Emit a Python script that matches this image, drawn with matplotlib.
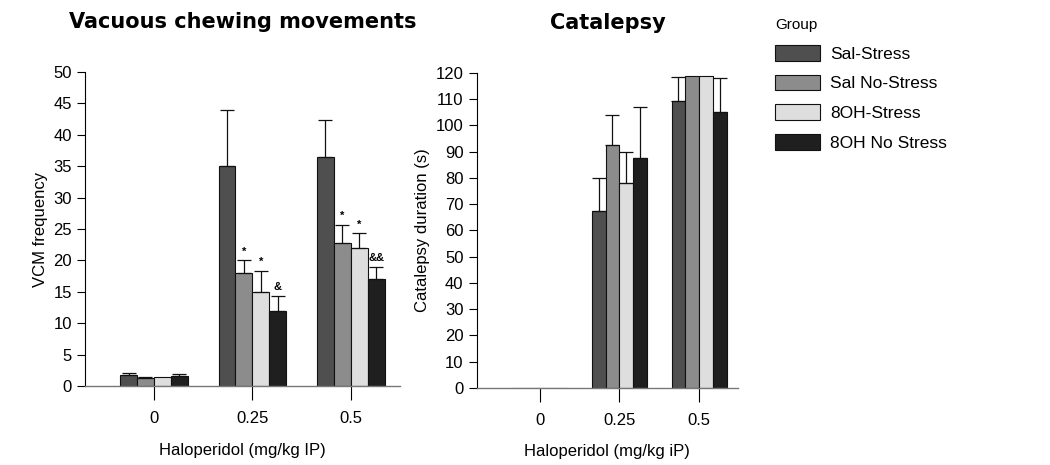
import matplotlib
matplotlib.use("Agg")
import matplotlib.pyplot as plt
import numpy as np

plt.rcParams['font.family'] = ['Liberation Sans', 'DejaVu Sans']

## data

doses = ['0', '0.25', '0.5']
groups = ['Sal-Stress', 'Sal No-Stress', '8OH-Stress', '8OH No Stress']
colors = ['#4f4f4f', '#8c8c8c', '#dedede', '#1f1f1f']

# VCM frequency, one list per group (doses 0, 0.25, 0.5)
vcm_sal_stress = [1.8, 35.0, 36.5]
vcm_sal_nostress = [1.3, 18.0, 22.7]
vcm_8oh_stress = [1.4, 15.0, 22.0]
vcm_8oh_nostress = [1.6, 12.0, 17.0]
vcm_err_sal_stress = [0.2, 9.0, 5.8]
vcm_err_sal_nostress = [0.2, 2.0, 3.0]
vcm_err_8oh_stress = [0.0, 3.3, 2.3]
vcm_err_8oh_nostress = [0.3, 2.3, 2.0]
vcm_marks_sal_nostress = ['', '*', '*']
vcm_marks_8oh_stress = ['', '*', '*']
vcm_marks_8oh_nostress = ['', '&', '&&']

# catalepsy duration (s)
cat_sal_stress = [0, 67.5, 109.5]
cat_sal_nostress = [0, 92.5, 119.0]
cat_8oh_stress = [0, 78.0, 119.0]
cat_8oh_nostress = [0, 87.5, 105.0]
cat_err_sal_stress = [0, 12.5, 9.0]
cat_err_sal_nostress = [0, 11.5, 0]
cat_err_8oh_stress = [0, 12.0, 0]
cat_err_8oh_nostress = [0, 19.5, 13.0]

vcm = [vcm_sal_stress, vcm_sal_nostress, vcm_8oh_stress, vcm_8oh_nostress]
vcm_err = [vcm_err_sal_stress, vcm_err_sal_nostress, vcm_err_8oh_stress, vcm_err_8oh_nostress]
vcm_marks = [['', '', ''], vcm_marks_sal_nostress, vcm_marks_8oh_stress, vcm_marks_8oh_nostress]
cat = [cat_sal_stress, cat_sal_nostress, cat_8oh_stress, cat_8oh_nostress]
cat_err = [cat_err_sal_stress, cat_err_sal_nostress, cat_err_8oh_stress, cat_err_8oh_nostress]

fig = plt.figure(figsize=(10.5, 4.65), dpi=100)
ax1 = fig.add_axes([0.081, 0.170, 0.300, 0.675])
ax2 = fig.add_axes([0.454, 0.166, 0.249, 0.677])

x = np.arange(len(doses))


def draw(ax, means, errs, width, marks=None):
    bars = []
    for i, g in enumerate(groups):
        pos = x + (i - 1.5) * width
        b = ax.bar(pos, means[i], width, color=colors[i], edgecolor='#111111',
                   linewidth=0.8, label=g, zorder=2)
        bars.append(b)
        e = np.array(errs[i])
        ax.errorbar(pos[e > 0], np.array(means[i])[e > 0],
                    yerr=[np.zeros((e > 0).sum()), e[e > 0]],
                    fmt='none', ecolor='#111111', elinewidth=0.9, capsize=5, capthick=0.9, zorder=3)
        if marks is not None:
            for p, m, v, er in zip(pos, marks[i], means[i], errs[i]):
                if m:
                    ax.text(p, v + er + 0.6, m, ha='center', va='bottom', fontsize=8, fontweight='bold')
    ax.set_xticks(x)
    ax.set_xticklabels(doses, fontsize=12)
    for s in ['top', 'right']:
        ax.spines[s].set_visible(False)
    ax.spines['bottom'].set_color('#777777')
    ax.spines['bottom'].set_linewidth(1.0)
    ax.spines['left'].set_linewidth(0.8)
    ax.tick_params(axis='x', length=10, pad=8, width=0.8)
    ax.tick_params(axis='y', length=6, labelsize=12, width=0.8)
    return bars


bars = draw(ax1, vcm, vcm_err, 0.172, vcm_marks)
ax1.set_xlim(-0.70, 2.50)
ax1.set_ylim(0, 50)
ax1.set_yticks(np.arange(0, 51, 5))
ax1.set_ylabel('VCM frequency', fontsize=12)
ax1.set_xlabel('Haloperidol (mg/kg IP)', fontsize=12, labelpad=12)
ax1.set_title('Vacuous chewing movements', fontsize=15, fontweight='bold',
              family='DejaVu Sans', pad=32)

draw(ax2, cat, cat_err, 0.173)
ax2.set_xlim(-0.79, 2.49)
ax2.set_ylim(0, 120)
ax2.set_yticks(np.arange(0, 121, 10))
ax2.set_ylabel('Catalepsy duration (s)', fontsize=12)
ax2.set_xlabel('Haloperidol (mg/kg iP)', fontsize=12, labelpad=12)
ax2.set_title('Catalepsy', fontsize=15, fontweight='bold', family='DejaVu Sans', pad=32)

leg = fig.legend(handles=bars, labels=groups, title='Group', loc='upper left',
                 bbox_to_anchor=(0.723, 0.995), frameon=False, fontsize=12.5,
                 title_fontsize=11, handlelength=2.6, handleheight=1.0,
                 handletextpad=0.6, labelspacing=0.75, alignment='left')

plt.savefig('out.png', dpi=100)
